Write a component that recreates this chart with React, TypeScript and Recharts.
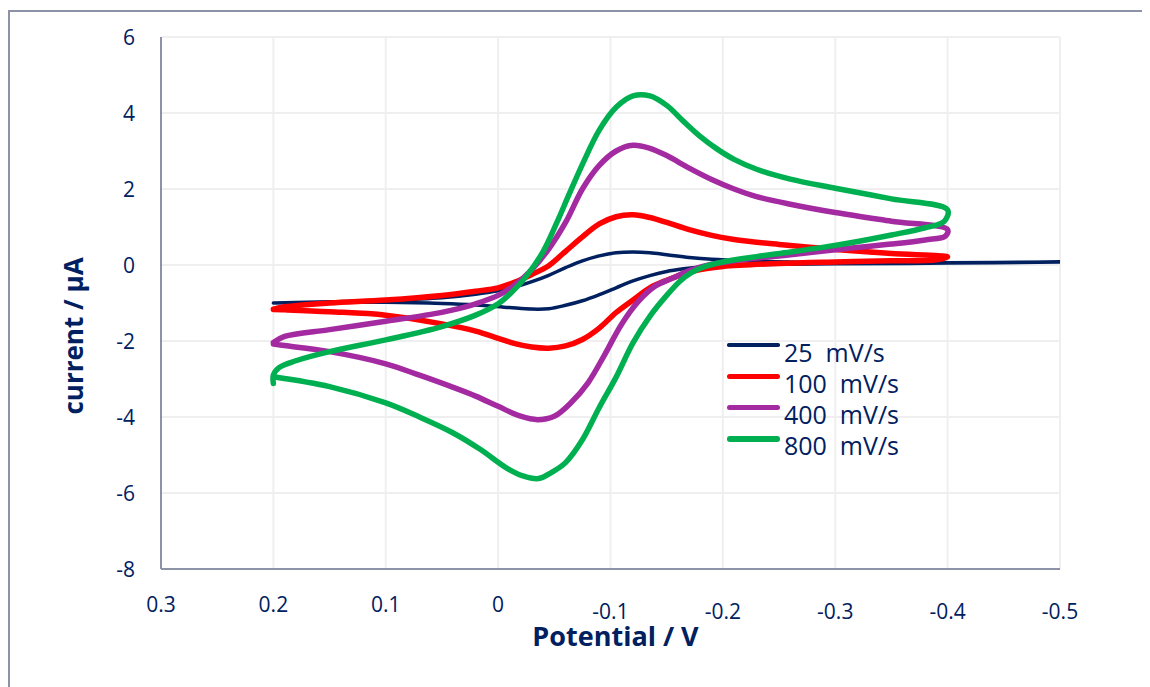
import { LineChart, Line, XAxis, YAxis, CartesianGrid } from "recharts"

// Cyclic voltammograms at four scan rates, each loop listed in scan order
const e25 = [0.2, 0.15, 0.1, 0.05, 0.02, 0, -0.015, -0.03, -0.045, -0.06, -0.075, -0.09, -0.105, -0.12, -0.135, -0.15, -0.17, -0.19, -0.22, -0.26, -0.3, -0.4, -0.5, -0.4, -0.3, -0.25, -0.2, -0.18, -0.165, -0.15, -0.135, -0.12, -0.105, -0.09, -0.075, -0.06, -0.045, -0.03, -0.01, 0.02, 0.05, 0.1, 0.15, 0.2]
const i25 = [-1.0, -0.97, -0.93, -0.86, -0.77, -0.68, -0.58, -0.44, -0.27, -0.07, 0.11, 0.24, 0.32, 0.34, 0.32, 0.27, 0.2, 0.15, 0.11, 0.08, 0.07, 0.06, 0.08, 0.05, 0.03, 0.02, -0.02, -0.05, -0.1, -0.17, -0.28, -0.42, -0.6, -0.78, -0.94, -1.06, -1.15, -1.16, -1.12, -1.05, -1.01, -0.98, -0.98, -1.0]

const e100 = [0.2, 0.19, 0.15, 0.1, 0.05, 0.02, 0, -0.015, -0.03, -0.045, -0.06, -0.075, -0.09, -0.105, -0.12, -0.135, -0.15, -0.17, -0.19, -0.21, -0.25, -0.3, -0.35, -0.4, -0.39, -0.35, -0.3, -0.25, -0.2, -0.18, -0.165, -0.15, -0.135, -0.12, -0.105, -0.09, -0.075, -0.06, -0.045, -0.03, -0.015, 0, 0.02, 0.05, 0.1, 0.15, 0.19, 0.2]
const i100 = [-1.16, -1.1, -1.0, -0.92, -0.8, -0.69, -0.6, -0.45, -0.25, -0.02, 0.36, 0.74, 1.08, 1.27, 1.32, 1.25, 1.12, 0.93, 0.78, 0.67, 0.54, 0.41, 0.3, 0.21, 0.14, 0.11, 0.08, 0.04, -0.04, -0.12, -0.24, -0.4, -0.6, -0.92, -1.25, -1.66, -1.96, -2.13, -2.19, -2.16, -2.07, -1.93, -1.74, -1.55, -1.32, -1.23, -1.18, -1.17]

const e400 = [0.2, 0.19, 0.15, 0.1, 0.06, 0.04, 0.02, 0, -0.015, -0.03, -0.045, -0.06, -0.075, -0.09, -0.105, -0.12, -0.135, -0.15, -0.17, -0.19, -0.21, -0.23, -0.26, -0.3, -0.35, -0.4, -0.398, -0.38, -0.35, -0.3, -0.27, -0.24, -0.21, -0.19, -0.17, -0.155, -0.14, -0.125, -0.11, -0.095, -0.08, -0.065, -0.05, -0.035, -0.02, 0, 0.02, 0.04, 0.07, 0.1, 0.15, 0.19, 0.2]
const i400 = [-2.04, -1.88, -1.7, -1.48, -1.3, -1.18, -1.02, -0.8, -0.52, -0.12, 0.42, 1.12, 2.0, 2.62, 3.0, 3.15, 3.07, 2.88, 2.55, 2.25, 2.0, 1.8, 1.6, 1.38, 1.15, 0.93, 0.76, 0.66, 0.55, 0.4, 0.3, 0.21, 0.11, 0.02, -0.15, -0.35, -0.55, -0.95, -1.55, -2.35, -3.1, -3.62, -3.98, -4.07, -3.98, -3.72, -3.45, -3.22, -2.9, -2.6, -2.28, -2.12, -2.08]

const e800 = [0.2, 0.2, 0.195, 0.18, 0.15, 0.1, 0.05, 0.02, 0, -0.012, -0.025, -0.04, -0.052, -0.063, -0.075, -0.09, -0.105, -0.12, -0.135, -0.15, -0.165, -0.18, -0.195, -0.21, -0.23, -0.26, -0.3, -0.35, -0.4, -0.397, -0.38, -0.35, -0.32, -0.29, -0.26, -0.23, -0.2, -0.185, -0.172, -0.162, -0.15, -0.135, -0.12, -0.105, -0.09, -0.075, -0.06, -0.048, -0.036, -0.022, -0.008, 0.016, 0.04, 0.07, 0.1, 0.15, 0.2]
const i800 = [-3.12, -2.9, -2.7, -2.52, -2.28, -1.97, -1.62, -1.32, -1.02, -0.72, -0.3, 0.35, 1.1, 1.85, 2.65, 3.55, 4.15, 4.45, 4.45, 4.2, 3.78, 3.38, 3.05, 2.78, 2.52, 2.26, 2.02, 1.74, 1.45, 1.15, 0.98, 0.79, 0.62, 0.47, 0.34, 0.22, 0.08, -0.03, -0.2, -0.42, -0.8, -1.35, -2.05, -2.95, -3.75, -4.6, -5.2, -5.45, -5.62, -5.55, -5.35, -4.85, -4.42, -4.0, -3.63, -3.2, -2.94]

const xTicks = [0.3, 0.2, 0.1, 0, -0.1, -0.2, -0.3, -0.4, -0.5]
const yTicks = [-8, -6, -4, -2, 0, 2, 4, 6]

const navy = "#002060"
const axisGrey = "#8E92A6"
const fontFace = "'Open Sans', 'Noto Sans', sans-serif"

const series = [
  { name: "25", label: "25  mV/s", e: e25, i: i25, color: "#002060", width: 3.5 },
  { name: "100", label: "100  mV/s", e: e100, i: i100, color: "#FF0000", width: 5.5 },
  { name: "400", label: "400  mV/s", e: e400, i: i400, color: "#A32AA0", width: 5.5 },
  { name: "800", label: "800  mV/s", e: e800, i: i800, color: "#00B050", width: 5.5 },
]

const toPoints = (e: number[], i: number[]) => e.map((v, k) => ({ e: v, i: i[k] }))

// centripetal Catmull-Rom, so the loops bend smoothly through every point
const catmullRom = (context: any) => {
  let pts: number[][] = []
  return {
    areaStart() {},
    areaEnd() {},
    lineStart() {
      pts = []
    },
    point(x: number, y: number) {
      pts.push([+x, +y])
    },
    lineEnd() {
      const n = pts.length
      if (!n) return
      context.moveTo(pts[0][0], pts[0][1])
      for (let k = 0; k < n - 1; k++) {
        const p0 = pts[Math.max(k - 1, 0)]
        const p1 = pts[k]
        const p2 = pts[k + 1]
        const p3 = pts[Math.min(k + 2, n - 1)]
        const d1 = Math.sqrt(Math.hypot(p1[0] - p0[0], p1[1] - p0[1]))
        const d2 = Math.sqrt(Math.hypot(p2[0] - p1[0], p2[1] - p1[1]))
        const d3 = Math.sqrt(Math.hypot(p3[0] - p2[0], p3[1] - p2[1]))
        let c1 = p1
        let c2 = p2
        if (d1 > 1e-6 && d2 > 1e-6) {
          const a = 2 * d1 * d1 + 3 * d1 * d2 + d2 * d2
          const m = 3 * d1 * (d1 + d2)
          c1 = [0, 1].map((j) => (p1[j] * a - p0[j] * d2 * d2 + p2[j] * d1 * d1) / m)
        }
        if (d3 > 1e-6 && d2 > 1e-6) {
          const b = 2 * d3 * d3 + 3 * d3 * d2 + d2 * d2
          const m = 3 * d3 * (d3 + d2)
          c2 = [0, 1].map((j) => (p2[j] * b + p1[j] * d3 * d3 - p3[j] * d2 * d2) / m)
        }
        context.bezierCurveTo(c1[0], c1[1], c2[0], c2[1], p2[0], p2[1])
      }
    },
  }
}

const XTick = ({ x, y, payload }: any) => {
  const v = payload.value as number
  const neg = v < 0
  return (
    <text x={x} y={y + (neg ? 50 : 43)} textAnchor="middle" fill={navy} fontSize={21} fontFamily={fontFace}>
      {String(v)}
    </text>
  )
}

const YTick = ({ x, y, payload }: any) => (
  <text x={x - 26} y={y + 7.5} textAnchor="end" fill={navy} fontSize={21} fontFamily={fontFace}>
    {String(payload.value)}
  </text>
)

const YTitle = ({ viewBox }: any) => {
  const cx = viewBox.x + 25
  const cy = viewBox.y + viewBox.height / 2 + 33
  return (
    <text
      x={cx}
      y={cy}
      transform={`rotate(-90 ${cx} ${cy})`}
      textAnchor="middle"
      dominantBaseline="central"
      fill={navy}
      fontSize={26}
      fontWeight="bold"
      fontFamily={fontFace}
    >
      current / µA
    </text>
  )
}

export default function App() {
  return (
    <div style={{ position: "relative", width: 1142, height: 679 }}>
      <div
        style={{
          position: "absolute",
          left: 0,
          top: 2,
          width: 1142,
          height: 677,
          boxSizing: "border-box",
          borderLeft: `2px solid ${axisGrey}`,
          borderTop: `2px solid ${axisGrey}`,
        }}
      />
      <LineChart width={1142} height={679} margin={{ top: 29, right: 90, left: 40, bottom: 38 }}>
        <CartesianGrid stroke="#EFEFEF" strokeWidth={2} />
        <XAxis
          type="number"
          dataKey="e"
          domain={[-0.5, 0.3]}
          ticks={xTicks}
          reversed
          allowDataOverflow
          height={80}
          tickSize={0}
          tickMargin={0}
          tickLine={false}
          axisLine={{ stroke: axisGrey, strokeWidth: 2 }}
          tick={<XTick />}
          interval={0}
          label={{
            value: "Potential / V",
            position: "insideBottom",
            offset: 3,
            dx: 5,
            fill: navy,
            fontSize: 27,
            fontWeight: "bold",
            fontFamily: fontFace,
          }}
        />
        <YAxis
          type="number"
          domain={[-8, 6]}
          ticks={yTicks}
          allowDataOverflow
          width={113}
          tickSize={0}
          tickMargin={0}
          tickLine={false}
          axisLine={{ stroke: axisGrey, strokeWidth: 2 }}
          tick={<YTick />}
          interval={0}
          label={{ content: <YTitle /> }}
        />
        {series.map((s) => (
          <Line
            key={s.name}
            data={toPoints(s.e, s.i)}
            dataKey="i"
            name={s.label}
            type={catmullRom as any}
            stroke={s.color}
            strokeWidth={s.width}
            strokeLinecap="round"
            strokeLinejoin="round"
            dot={false}
            activeDot={false}
            isAnimationActive={false}
          />
        ))}
      </LineChart>
      {series.map((s, k) => (
        <div
          key={s.name}
          style={{
            position: "absolute",
            left: 719,
            top: 337 - s.width / 2 + k * 31.3,
            width: 53,
            height: s.width,
            borderRadius: s.width / 2,
            background: s.color,
          }}
        />
      ))}
      {series.map((s, k) => (
        <div
          key={s.name + "-label"}
          style={{
            position: "absolute",
            left: 776,
            top: 331.5 + k * 31.3,
            fontFamily: fontFace,
            fontSize: 25,
            lineHeight: "25px",
            color: navy,
            whiteSpace: "pre",
          }}
        >
          {s.label}
        </div>
      ))}
    </div>
  )
}
